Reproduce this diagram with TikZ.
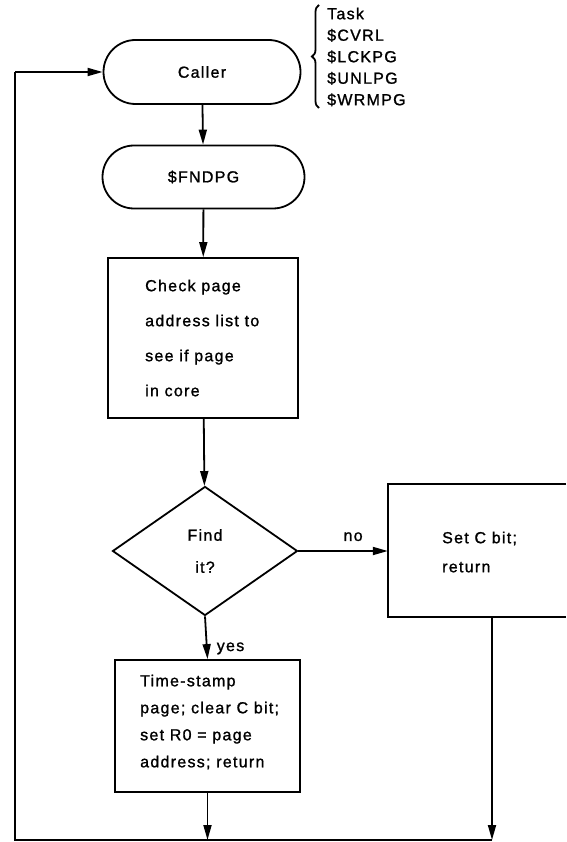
\documentclass[tikz,border=0pt]{standalone}
\usepackage{fontspec}
\setmainfont{Liberation Sans}[LetterSpace=8,FakeBold=1.2]
\usetikzlibrary{arrows.meta,shapes.geometric,shapes.misc,decorations.pathreplacing,calc}
\tikzset{
  ln/.style={line width=1.8pt},
  arr/.style={ln,-{Triangle[length=15pt,width=8pt]}},
  stad/.style={draw,ln,rounded rectangle,inner sep=0pt},
  boxx/.style={draw,ln,rectangle,inner sep=0pt},
  dia/.style={draw,ln,diamond,inner sep=0pt},
  lbl/.style={inner sep=0pt,align=left},
}
\begin{document}
\begin{tikzpicture}[x=1pt,y=-1pt,font=\fontsize{16}{27}\selectfont]
\useasboundingbox (0,0) rectangle (566,842);
\node[stad,minimum width=197pt,minimum height=64pt] (caller) at (202,72) {Caller};
\node[stad,minimum width=202pt,minimum height=63pt] (fnd) at (203.5,177) {\$FNDPG};
\node[boxx,minimum width=190pt,minimum height=160pt] (check) at (203,338) {};
\node[lbl,anchor=west,font=\fontsize{16}{35}\selectfont] (checkt) at (145,338)
  {Check page\\address list to\\see if page\\in core};
\node[dia,minimum width=185pt,minimum height=129pt] (find) at (205,551) {};
\node[lbl,align=center,font=\fontsize{16}{32}\selectfont] (findt) at (205,551) {Find\\it?};
\node[rectangle,minimum width=178pt,minimum height=133pt,inner sep=0pt] (setc) at (477,550.5) {};
\node[lbl,anchor=west,font=\fontsize{16}{29}\selectfont] (setct) at (442,552) {Set C bit;\\return};
\node[boxx,minimum width=185pt,minimum height=132pt] (stamp) at (207.5,726) {};
\node[lbl,anchor=west] (stampt) at (140,722)
  {Time-stamp\\page; clear C bit;\\set R0 = page\\address; return};
\node[lbl,anchor=west,font=\fontsize{16}{21.5}\selectfont] (list) at (327,57)
  {Task\\\$CVRL\\\$LCKPG\\\$UNLPG\\\$WRMPG};
\coordinate (bl) at (15,840);
\coordinate (bm) at (stamp.south |- bl);
\coordinate (br) at (492,840);
\coordinate (rt) at (492,617);
\draw[ln] (setc.north east) -- (setc.north west) -- (setc.south west) -- (setc.south east);
\draw[arr] (caller) -- (fnd);
\draw[arr] (fnd) -- (check);
\draw[arr] (check) -- (find);
\draw[arr] (find.east) -- node[lbl,above=9pt,xshift=10pt] (no) {no} (setc.west |- find.east);
\draw[arr] (find.south) -- node[lbl,right=9pt,pos=0.75] (yes) {yes} (stamp.north);
\draw[arr] (stamp) -- (bm);
\draw[arr] (rt) -- (br);
\draw[ln] (br) -- (bl) -- (bl |- caller.west);
\draw[arr] (bl |- caller.west) -- (caller.west);
\draw[ln,decorate,decoration={brace,amplitude=7pt}] (319,108) -- (319,5);
\end{tikzpicture}
\end{document}
